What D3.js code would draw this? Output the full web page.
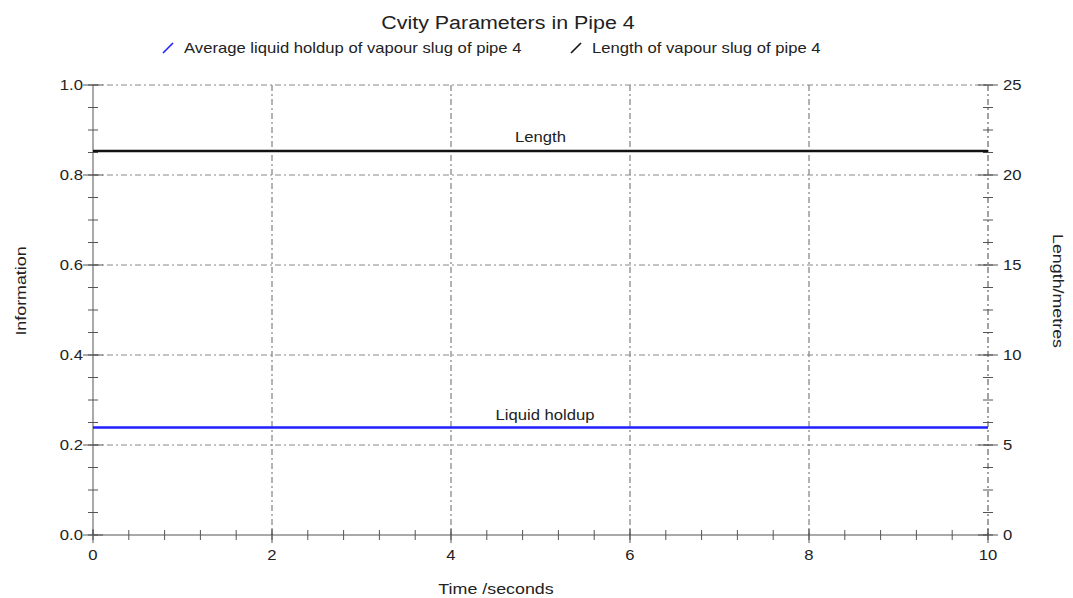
<!DOCTYPE html>
<html>
<head>
<meta charset="utf-8">
<script src="https://cdn.jsdelivr.net/npm/d3@7"></script>
<style>
  body { margin: 0; background: #fff; }
  text { font-family: "Liberation Sans", Arial, sans-serif; fill: #222; }
</style>
</head>
<body>
<div id="vis"></div>
<script>
// data
const timeRange = [0, 10];
const holdupSeries = [{ t: 0, v: 0.239 }, { t: 10, v: 0.239 }];
const lengthSeries = [{ t: 0, v: 21.33 }, { t: 10, v: 21.33 }];
const xTicks = [0, 2, 4, 6, 8, 10];
const leftTicks = [0, 0.2, 0.4, 0.6, 0.8, 1.0];
const rightTicks = [0, 5, 10, 15, 20, 25];
const legendNames = ["Average liquid holdup of vapour slug of pipe 4", "Length of vapour slug of pipe 4"];
const seriesColors = ["#1f1fff", "#111"];

const W = 1073, H = 598;
const margin = { top: 85, right: 85, bottom: 63, left: 93 };
const width = W - margin.left - margin.right;
const height = H - margin.top - margin.bottom;
const SX = 1.19; // the original text is a bit wider than Liberation Sans

const root = d3.select("#vis").append("svg")
    .attr("width", W)
    .attr("height", H);

const svg = root.append("g")
    .attr("transform", `translate(${margin.left},${margin.top})`);

const x = d3.scaleLinear().domain(timeRange).range([0, width]);
const yL = d3.scaleLinear().domain([0, 1]).range([height, 0]);
const yR = d3.scaleLinear().domain([0, 25]).range([height, 0]);

const gridDash = "6,3,2,3";

// text placed at (px,py), optionally rotated, stretched horizontally
function label(parent, px, py, str, size, anchor, rot) {
    return parent.append("text")
        .attr("transform", `translate(${px},${py})${rot ? ` rotate(${rot})` : ""} scale(${SX},1)`)
        .attr("text-anchor", anchor)
        .style("font-size", size + "px")
        .text(str);
}

// grid
svg.append("g").selectAll("line")
    .data(xTicks.filter(d => d > 0 && d < 10))
    .join("line")
    .attr("x1", d => x(d)).attr("x2", d => x(d))
    .attr("y1", 0).attr("y2", height)
    .attr("stroke", "#666").attr("stroke-dasharray", gridDash);

svg.append("g").selectAll("line")
    .data(leftTicks.filter(d => d > 0))
    .join("line")
    .attr("x1", 0).attr("x2", width)
    .attr("y1", d => yL(d)).attr("y2", d => yL(d))
    .attr("stroke", "#888").attr("stroke-dasharray", gridDash);

// bottom axis
const xMinor = d3.range(0, 10.0001, 0.4);
const bottom = svg.append("g").attr("transform", `translate(0,${height})`);
bottom.append("line").attr("x1", 0).attr("x2", width).attr("stroke", "#555");
bottom.selectAll(".mt").data(xMinor).join("line")
    .attr("x1", d => x(d)).attr("x2", d => x(d))
    .attr("y1", -5).attr("y2", 5).attr("stroke", "#555");
bottom.selectAll(".Mt").data(xTicks).join("line")
    .attr("x1", d => x(d)).attr("x2", d => x(d))
    .attr("y1", -6).attr("y2", 8).attr("stroke", "#555");
xTicks.forEach(d => label(bottom, x(d), 25, d, 14, "middle"));

// left axis
const yMinor = d3.range(0, 1.0001, 0.05);
const left = svg.append("g");
left.append("line").attr("y1", 0).attr("y2", height).attr("stroke", "#555");
left.selectAll(".mt").data(yMinor).join("line")
    .attr("y1", d => yL(d)).attr("y2", d => yL(d))
    .attr("x1", -5).attr("x2", 5).attr("stroke", "#555");
left.selectAll(".Mt").data(leftTicks).join("line")
    .attr("y1", d => yL(d)).attr("y2", d => yL(d))
    .attr("x1", -10).attr("x2", 10).attr("stroke", "#555");
leftTicks.forEach(d => label(left, -10, yL(d) + 5, d3.format(".1f")(d), 14, "end"));

// right axis
const rMinor = d3.range(0, 25.001, 1.25);
const right = svg.append("g").attr("transform", `translate(${width},0)`);
right.append("line").attr("y1", 0).attr("y2", height)
    .attr("stroke", "#444").attr("stroke-dasharray", gridDash);
right.selectAll(".mt").data(rMinor).join("line")
    .attr("y1", d => yR(d)).attr("y2", d => yR(d))
    .attr("x1", -5).attr("x2", 5).attr("stroke", "#555");
right.selectAll(".Mt").data(rightTicks).join("line")
    .attr("y1", d => yR(d)).attr("y2", d => yR(d))
    .attr("x1", -10).attr("x2", 10).attr("stroke", "#555");
rightTicks.forEach(d => label(right, 15, yR(d) + 5, d, 14, "start"));

// series
const lineL = d3.line().x(d => x(d.t)).y(d => yL(d.v));
const lineR = d3.line().x(d => x(d.t)).y(d => yR(d.v));

svg.append("path").datum(lengthSeries)
    .attr("d", lineR).attr("fill", "none")
    .attr("stroke", seriesColors[1]).attr("stroke-width", 2.5);

svg.append("path").datum(holdupSeries)
    .attr("d", lineL).attr("fill", "none")
    .attr("stroke", seriesColors[0]).attr("stroke-width", 2.5);

label(svg, x(5), yR(lengthSeries[0].v) - 9, "Length", 14, "middle");
label(svg, x(5.05), yL(holdupSeries[0].v) - 7, "Liquid holdup", 14, "middle");

// title, legend, axis titles
label(root, 508, 29, "Cvity Parameters in Pipe 4", 18, "middle");

const legendX = [163, 571];
legendNames.forEach((name, i) => {
    const g = root.append("g").attr("transform", `translate(${legendX[i]},48)`);
    g.append("line")
        .attr("x1", 0).attr("y1", 5).attr("x2", 10).attr("y2", -5)
        .attr("stroke", seriesColors[i]).attr("stroke-width", 1.6);
    label(g, 21, 5, name, 14, "start");
});

label(root, 26, margin.top + height / 2 - 19, "Information", 15, "middle", -90);
label(root, 1053, margin.top + height / 2 - 19, "Length/metres", 15, "middle", 90);
label(root, 496, 594, "Time /seconds", 15, "middle");
</script>
</body>
</html>
